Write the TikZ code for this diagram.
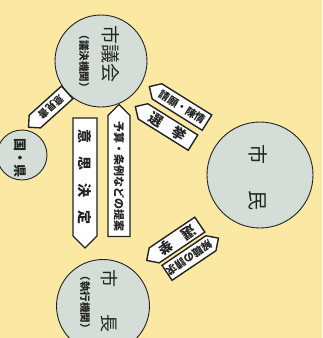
\documentclass[tikz,border=0pt]{standalone}
\usepackage{fontspec}
\newfontfamily\jp{Noto Sans CJK JP}
\usetikzlibrary{shapes.symbols}
\definecolor{bg}{RGB}{251,232,163}
\definecolor{cfill}{RGB}{212,221,215}
\definecolor{ink}{RGB}{35,35,35}
\begin{document}
\begin{tikzpicture}[x=1pt,y=-1pt,
  circ/.style={circle, draw=ink, line width=0.9pt, fill=cfill, inner sep=0pt},
  tag/.style={signal, draw=ink, line width=1.4pt, fill=white, inner sep=0pt, text=ink},
  lbl/.style={text=ink, inner sep=0pt, rotate=-90},
]
\fill[bg] (0,0) rectangle (322,338);
\useasboundingbox (0,0) rectangle (322,338);

% circles
\node[circ, minimum size=92pt] (gikai) at (101,61) {};
\node[circ, minimum size=50pt] (ken) at (22,155) {};
\node[circ, minimum size=106pt] (shimin) at (260,175) {};
\node[circ, minimum size=93pt] (shicho) at (103,306) {};

% circle texts
\node[lbl, font=\jp\fontsize{19}{19}\selectfont] (gikaiA) at (111,54) {市議会};
\node[lbl, font=\jp\bfseries\fontsize{10.5}{10.5}\selectfont] (gikaiB) at (84,61) {（議決機関）};
\node[lbl, font=\jp\bfseries\fontsize{13}{13}\selectfont] (kenA) at (20,158) {国・県};
\node[lbl, font=\jp\fontsize{20}{20}\selectfont] (shiminA) at (258,154) {市};
\node[lbl, font=\jp\fontsize{20}{20}\selectfont] (shiminB) at (258,200) {民};
\node[lbl, font=\jp\fontsize{18}{18}\selectfont] (shichoA) at (109,301) {市\hspace{27pt}長};
\node[lbl, font=\jp\bfseries\fontsize{10.5}{10.5}\selectfont] (shichoB) at (85,302) {（執行機関）};

% vertical tags
\node[tag, signal to=east, rotate=-90, minimum width=130pt, minimum height=24pt,
      font=\jp\bfseries\fontsize{14}{14}\selectfont] (ishi) at (85,177)
      {意\hspace{13pt}思\hspace{13pt}決\hspace{13pt}定};
\node[tag, signal to=west, rotate=-90, minimum width=132pt, minimum height=22pt,
      font=\jp\bfseries\fontsize{11}{11}\selectfont] (yosan) at (119,176)
      {予算・条例などの提案};

% gikai - shimin
\node[tag, signal to=west, rotate=-32, minimum width=68pt, minimum height=18pt,
      font=\jp\bfseries\fontsize{10.5}{10.5}\selectfont] (seigan) at (182,107) {請願・陳情};
\node[tag, signal to=west, rotate=-32, minimum width=68pt, minimum height=18pt,
      font=\jp\bfseries\fontsize{14}{14}\selectfont] (senkyoA) at (168,127) {選\hspace{13pt}挙};

% shimin - shicho
\node[tag, signal to=east, rotate=-146, minimum width=64pt, minimum height=18pt,
      font=\jp\bfseries\fontsize{14}{14}\selectfont] (senkyoB) at (177,240) {選\hspace{13pt}挙};
\node[tag, signal to=west, rotate=-146, minimum width=62pt, minimum height=18pt,
      font=\jp\bfseries\fontsize{10.5}{10.5}\selectfont] (kaishoku) at (189,258) {解職の請求};

% gikai - ken
\node[tag, signal to=east, rotate=-138, minimum width=52pt, minimum height=17pt,
      font=\jp\bfseries\fontsize{10}{10}\selectfont] (ikensho) at (51,107) {意見書};
\end{tikzpicture}
\end{document}
